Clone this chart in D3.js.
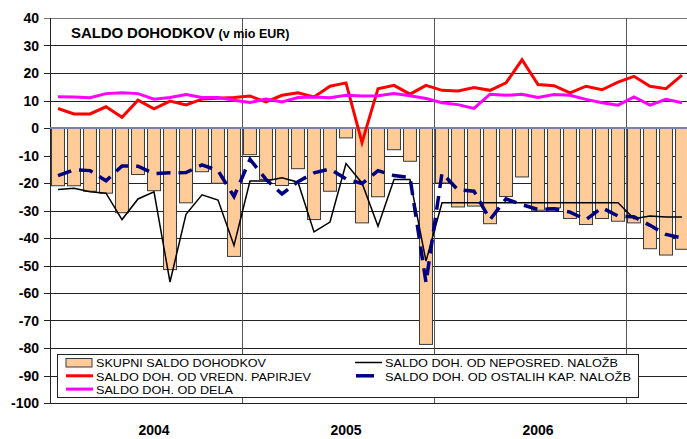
<!DOCTYPE html>
<html>
<head>
<meta charset="utf-8">
<script src="https://cdn.jsdelivr.net/npm/d3@7"></script>
<style>
  body { margin: 0; background: #fff; }
  text { font-family: "Liberation Sans", Arial, sans-serif; }
</style>
</head>
<body>
<div id="grafico"></div>
<script>
// mesecni podatki 2004-01 .. 2007-04
var leta = ["2004", "2005", "2006", "2007"];
var meseci = [];
leta.forEach(function (l) {
  for (var m = 1; m <= 12; m++) {
    if (l === "2007" && m > 4) break;
    meseci.push(l + "-" + (m < 10 ? "0" + m : m));
  }
});

var skupni = [-21, -21, -23, -23.7, -30.8, -16.9, -22.8, -51.5, -27.2, -15.9, -20.1, -46.7,
  -9.7, -18.7, -20.9, -14.8, -33.3, -23, -3.6, -34.5, -25, -7.9, -12.1, -78.7,
  -20, -28.7, -28.4, -34.8, -24.9, -17.8, -29.9, -29, -32.9, -35.1, -32.9, -33.9,
  -34.5, -43.9, -46.2, -44.1];

var vredn = [7.1, 5.1, 5.1, 7.7, 3.9, 10.1, 7.0, 9.8, 8.4, 10.5, 10.8, 11.1,
  11.6, 9.5, 11.9, 12.8, 11.3, 15.2, 16.4, -5.3, 14.3, 15.5, 12.3, 15.5,
  13.7, 13.5, 14.7, 13.7, 16.4, 24.8, 15.8, 15.4, 12.8, 15.2, 13.9, 16.7,
  18.8, 15.2, 14.3, 19.2];

var dela = [11.4, 11.3, 11.0, 12.5, 12.8, 12.5, 10.5, 11.1, 12.2, 11.1, 11.1, 10.1,
  9.3, 10.5, 9.5, 11.1, 11.3, 11.0, 11.9, 11.6, 11.7, 12.5, 11.7, 10.7,
  9.2, 8.5, 7.1, 12.3, 11.9, 12.3, 11.1, 12.2, 11.9, 10.4, 9.2, 8.3,
  11.3, 8.3, 10.4, 9.2];

var neposred = [-22.4, -21.9, -23.2, -23.7, -33.3, -25.8, -23.2, -56.0, -31.4, -24.3, -26.2, -42.7,
  -19.3, -19.3, -18.1, -19.7, -37.8, -34.2, -12.9, -20.0, -35.7, -18.7, -18.7, -48.4,
  -27.2, -27.2, -27.2, -27.2, -27.2, -27.2, -27.2, -27.2, -27.2, -27.2, -27.2, -27.2,
  -33.0, -32.0, -32.4, -32.4];

var ostalih = [-17.3, -15.2, -15.5, -19.2, -13.8, -13.9, -16.6, -16.3, -16.2, -13.4, -15.5, -24.9,
  -11.4, -18.7, -24.0, -19.5, -16.3, -14.9, -18.5, -20.2, -15.5, -17.3, -18.0, -56.2,
  -16.4, -22.5, -23.0, -33.3, -25.8, -27.9, -29.6, -29.4, -30.6, -33.3, -29.0, -32.0,
  -32.3, -35.4, -38.7, -40.0];

var yTicks = d3.range(-100, 41, 10);
var oznakeLet = ["2004", "2005", "2006"];

var ancho = 687, alto = 439;
var margen = { superior: 18, izquierdo: 50, inferior: 403, derecho: 690 };

var svg = d3.select("#grafico").append("svg")
  .attr("width", ancho).attr("height", alto);

var x = d3.scaleBand().domain(meseci)
  .range([margen.izquierdo, margen.derecho])
  .paddingInner(0.19).paddingOuter(0.095);

var y = d3.scaleLinear().domain([-100, 40]).range([margen.inferior, margen.superior]);

function cx(i) { return x(meseci[i]) + x.bandwidth() / 2; }

// mreza
svg.append("g").selectAll("line").data(yTicks).enter().append("line")
  .attr("x1", margen.izquierdo - 6).attr("x2", ancho)
  .attr("y1", function (d) { return Math.round(y(d)) + 0.5; })
  .attr("y2", function (d) { return Math.round(y(d)) + 0.5; })
  .style("stroke", function (d) { return d === 40 ? "#777" : "#222"; })
  .style("stroke-width", 1);

// meje med leti
var meje = leta.slice(1).map(function (l) { return x(l + "-01") - x.step() * 0.095; });
svg.append("g").selectAll("line").data(meje).enter().append("line")
  .attr("x1", function (d) { return Math.round(d) + 0.5; })
  .attr("x2", function (d) { return Math.round(d) + 0.5; })
  .attr("y1", margen.superior).attr("y2", margen.inferior)
  .style("stroke", "#555").style("stroke-width", 1);

svg.append("line")
  .attr("x1", margen.izquierdo + 0.5).attr("x2", margen.izquierdo + 0.5)
  .attr("y1", margen.superior).attr("y2", margen.inferior)
  .style("stroke", "#222");

// stolpci
svg.append("g").selectAll("rect").data(skupni).enter().append("rect")
  .attr("x", function (d, i) { return x(meseci[i]); })
  .attr("y", y(0))
  .attr("width", x.bandwidth())
  .attr("height", function (d) { return y(d) - y(0); })
  .style("fill", "#FFCC99")
  .style("stroke", "#3a3a3a")
  .style("stroke-width", 1);

svg.append("line")
  .attr("x1", margen.izquierdo).attr("x2", ancho)
  .attr("y1", y(0)).attr("y2", y(0))
  .style("stroke", "#8080a0").style("stroke-width", 2);

// crte
var linija = d3.line().x(function (d, i) { return cx(i); }).y(function (d) { return y(d); });

svg.append("path").datum(vredn).attr("d", linija)
  .style("fill", "none").style("stroke", "#FF0000").style("stroke-width", 3);
svg.append("path").datum(dela).attr("d", linija)
  .style("fill", "none").style("stroke", "#FF00FF").style("stroke-width", 3);
svg.append("path").datum(neposred).attr("d", linija)
  .style("fill", "none").style("stroke", "#000").style("stroke-width", 1.5);
svg.append("path").datum(ostalih).attr("d", linija)
  .style("fill", "none").style("stroke", "#000080").style("stroke-width", 3.5)
  .style("stroke-dasharray", "14,8");

// os y
svg.append("g").selectAll("text").data(yTicks).enter().append("text")
  .attr("x", 39).attr("y", function (d) { return y(d); })
  .attr("dy", "0.36em")
  .attr("text-anchor", "end")
  .style("font-size", "14px").style("font-weight", "bold")
  .text(function (d) { return d; });

// leta
svg.append("g").selectAll("text").data(oznakeLet).enter().append("text")
  .attr("x", function (d) { return cx(meseci.indexOf(d + "-07")); })
  .attr("y", 435)
  .attr("text-anchor", "middle")
  .style("font-size", "14px").style("font-weight", "bold")
  .text(function (d) { return d; });

// naslov
var naslov = svg.append("text").attr("x", 71).attr("y", 38);
naslov.append("tspan").style("font-size", "15px").style("font-weight", "bold")
  .style("letter-spacing", "-0.1px").text("SALDO DOHODKOV");
naslov.append("tspan").attr("dx", 4).style("font-size", "12.5px").style("font-weight", "bold")
  .text("(v mio EUR)");

// legenda
var leg = svg.append("g");
leg.append("rect").attr("x", 57.5).attr("y", 354.5).attr("width", 581).attr("height", 43)
  .style("fill", "#fff").style("stroke", "#222");

var legenda = [
  { ime: "SKUPNI SALDO DOHODKOV", tip: "bar", x: 66, y: 363, w: 170 },
  { ime: "SALDO DOH. OD VREDN. PAPIRJEV", tip: "red", x: 66, y: 376.3, w: 215 },
  { ime: "SALDO DOH. OD DELA", tip: "mag", x: 66, y: 389.6, w: 137 },
  { ime: "SALDO DOH. OD NEPOSRED. NALOŽB", tip: "blk", x: 355, y: 363, w: 233 },
  { ime: "SALDO DOH. OD OSTALIH KAP. NALOŽB", tip: "nav", x: 355, y: 376.3, w: 246 }
];

legenda.forEach(function (e) {
  if (e.tip === "bar") {
    leg.append("rect").attr("x", e.x).attr("y", e.y - 4.5).attr("width", 26).attr("height", 8.5)
      .style("fill", "#FFCC99").style("stroke", "#3a3a3a");
  } else {
    var s = { red: ["#FF0000", 3], mag: ["#FF00FF", 3], blk: ["#000", 1.5], nav: ["#000080", 3.5] }[e.tip];
    var l = leg.append("line").attr("x1", e.x).attr("x2", e.x + 27)
      .attr("y1", e.y - 0.5).attr("y2", e.y - 0.5)
      .style("stroke", s[0]).style("stroke-width", s[1]);
    if (e.tip === "nav") l.attr("x1", e.x + 1).attr("x2", e.x + 19);
  }
  leg.append("text").attr("x", e.x + 30).attr("y", e.y + 4.3)
    .attr("textLength", e.w).attr("lengthAdjust", "spacingAndGlyphs")
    .style("font-size", "11.4px")
    .text(e.ime);
});
</script>
</body>
</html>
